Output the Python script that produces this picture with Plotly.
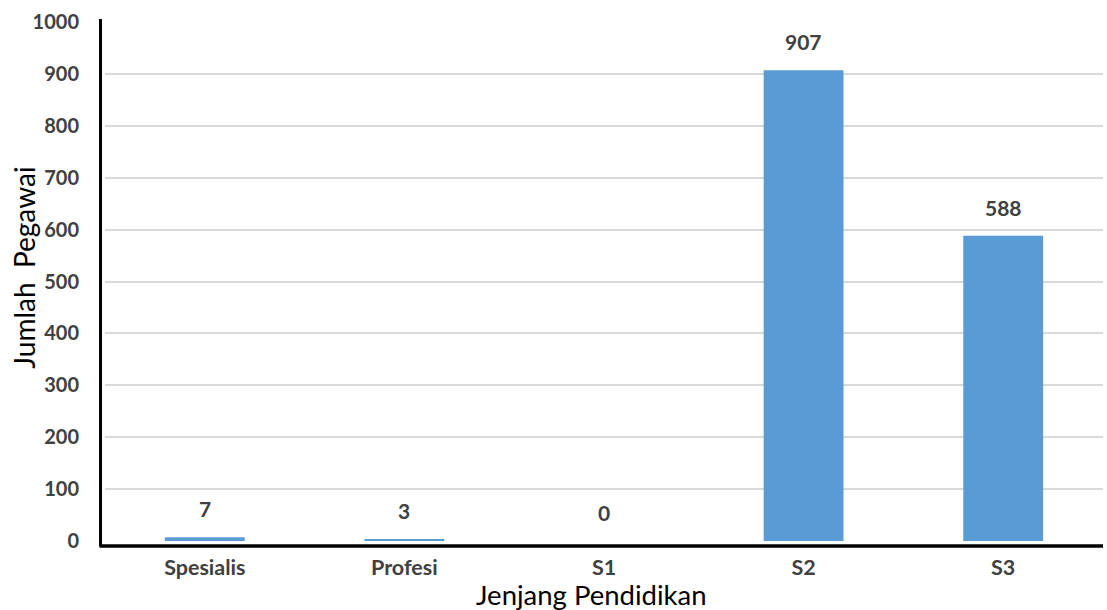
import plotly.graph_objects as go

# Jumlah pegawai per jenjang pendidikan
categories = ["Spesialis", "Profesi", "S1", "S2", "S3"]
counts = [7, 3, 0, 907, 588]
y_ticks = [0, 100, 200, 300, 400, 500, 600, 700, 800, 900, 1000]

BAR_COLOR = "#5B9BD5"
TEXT_GREY = "#404040"
FONT = "Lato, 'Open Sans', sans-serif"

fig = go.Figure()
fig.add_trace(go.Bar(
    x=categories,
    y=counts,
    width=0.4,
    marker=dict(color=BAR_COLOR, line=dict(width=0)),
    hoverinfo="x+y",
))

# value labels above each bar
for cat, val in zip(categories, counts):
    fig.add_annotation(
        x=cat, y=val, text=f"<b>{val}</b>", showarrow=False,
        yanchor="bottom", yshift=14,
        font=dict(family=FONT, size=21, color=TEXT_GREY),
    )

# axis titles
fig.add_annotation(
    xref="paper", yref="paper", x=-0.081, y=0.527,
    text="Jumlah  Pegawai", textangle=-90, showarrow=False,
    xanchor="center", yanchor="middle",
    font=dict(family=FONT, size=28, color="black"),
)
fig.add_annotation(
    xref="paper", yref="paper", x=0.4875, y=0, yshift=-53,
    text="Jenjang Pendidikan", showarrow=False,
    xanchor="center", yanchor="middle", borderpad=0,
    font=dict(family=FONT, size=27.5, color="black"),
)

fig.update_layout(
    width=1107, height=610,
    margin=dict(l=105, r=4, t=22, b=69),
    paper_bgcolor="white", plot_bgcolor="white",
    showlegend=False,
    font=dict(family=FONT, color=TEXT_GREY),
    xaxis=dict(
        type="category",
        showgrid=False, showline=False, zeroline=False,
        ticks="",
        tickfont=dict(family=FONT, size=21.5, color=TEXT_GREY, weight="bold"),
        ticklabelstandoff=11,
        range=[-0.5, 4.5],
    ),
    yaxis=dict(
        range=[0, 1000],
        tickvals=y_ticks,
        showgrid=True, gridcolor="#D9D9D9", gridwidth=1.5,
        zeroline=False, showline=False, ticks="",
        tickfont=dict(family=FONT, size=20, color=TEXT_GREY, weight="bold"),
        ticklabelstandoff=25,
    ),
)

# heavy black axis lines offset slightly from the plot area
fig.add_shape(type="line", xref="paper", yref="paper",
              x0=-0.0045, x1=-0.0045, y0=-0.0105, y1=1.006,
              line=dict(color="black", width=3))
fig.add_shape(type="line", xref="paper", yref="paper",
              x0=-0.0055, x1=1.0, y0=-0.0095, y1=-0.0095,
              line=dict(color="black", width=3.5))

fig.write_html("out.html")
